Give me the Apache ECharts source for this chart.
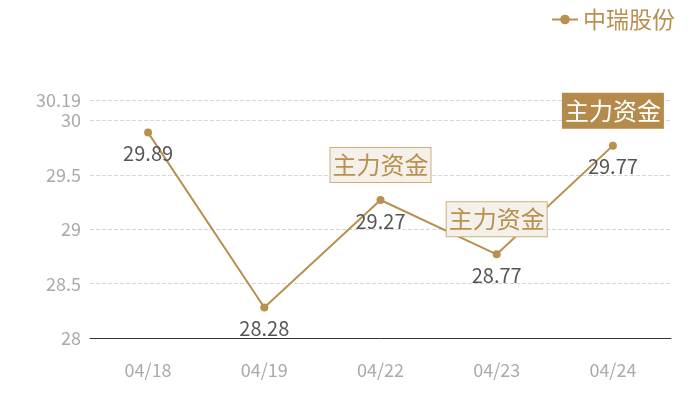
<!DOCTYPE html>
<html><head><meta charset="utf-8">
<script src="https://cdn.jsdelivr.net/npm/echarts@6/dist/echarts.min.js"></script>
<style>html,body{margin:0;padding:0;background:#fff}#c{width:700px;height:400px}</style>
</head><body><div id="c"></div>
<script>
var categories = ['04/18', '04/19', '04/22', '04/23', '04/24'];
var prices = [29.89, 28.28, 29.27, 28.77, 29.77];
var seriesName = '中瑞股份';
var markLabel = '主力资金';
var markIdx = [2, 3, 4];
var highlightIdx = 4;

var gold = '#b8904f';
var font = '"Noto Sans CJK SC", "Noto Sans", sans-serif';
var chart = echarts.init(document.getElementById('c'));
var markData = markIdx.map(function (i) {
  var hi = i === highlightIdx;
  return {
    coord: [categories[i], prices[i]],
    symbol: 'circle', symbolSize: 0,
    label: {
      show: true, formatter: markLabel, offset: [0, -35],
      fontSize: 24, fontFamily: font, lineHeight: 28,
      color: hi ? '#fff' : gold,
      backgroundColor: hi ? '#b58b4c' : '#f4f0ea',
      borderColor: hi ? '#b58b4c' : '#cfae7c', borderWidth: 1,
      padding: [3, 2, 3, 2]
    }
  };
});
chart.setOption({
  animation: false,
  legend: {
    right: 20, top: 3, itemWidth: 26, itemHeight: 12, itemGap: 6,
    textStyle: { fontSize: 23, color: gold, fontFamily: font },
    data: [seriesName]
  },
  grid: { left: 90, right: 29, top: 100, bottom: 62 },
  xAxis: {
    type: 'category', data: categories,
    axisLine: { lineStyle: { color: '#333' } },
    axisTick: { show: false },
    axisLabel: { fontSize: 18, color: '#aaa', margin: 23, fontFamily: font }
  },
  yAxis: {
    type: 'value', min: 28, max: 30.19, interval: 0.5,
    axisLine: { show: false }, axisTick: { show: false },
    axisLabel: { fontSize: 18, color: '#aaa', margin: 9, fontFamily: font },
    splitLine: { lineStyle: { color: '#d6d6d6', type: 'dashed' } }
  },
  series: [{
    name: seriesName, type: 'line', data: prices,
    color: gold, symbol: 'circle', symbolSize: 8,
    lineStyle: { width: 2, color: gold },
    itemStyle: { color: gold },
    label: { show: true, position: 'bottom', distance: 7, fontSize: 20, color: '#555', fontFamily: font },
    markPoint: { data: markData }
  }]
});
</script></body></html>
